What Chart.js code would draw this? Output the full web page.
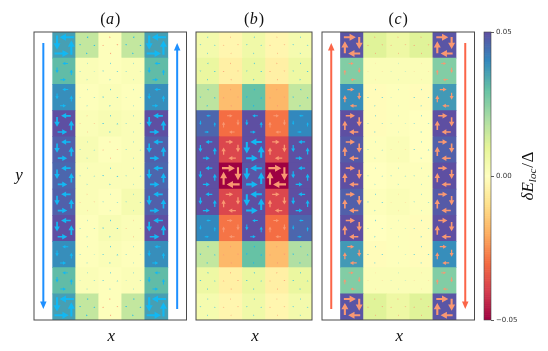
<!DOCTYPE html>
<html>
<head>
<meta charset="utf-8">
<script src="https://cdn.jsdelivr.net/npm/chart.js@4.4.1/dist/chart.umd.min.js"></script>
<style>
  html, body { margin: 0; padding: 0; background: #fff; }
  #wrap { position: relative; width: 548px; height: 351px; }
  #wrap canvas { position: absolute; left: 0; top: 0; }
</style>
</head>
<body>
<div id="wrap">
  <canvas id="panelA" width="548" height="351"></canvas>
  <canvas id="panelB" width="548" height="351"></canvas>
  <canvas id="panelC" width="548" height="351"></canvas>
  <canvas id="colorbar" width="548" height="351"></canvas>
</div>
<script>
// lattice: 5 columns x 11 rows (row 0 = top)
var columns = [0, 1, 2, 3, 4];
var rows = [0, 1, 2, 3, 4, 5, 6, 7, 8, 9, 10];

// local energy shift dE_loc / Delta, per row
var energyA = [
    [0.036, 0.016, 0.001, 0.016, 0.036],
    [0.031, 0.002, 0.001, 0.002, 0.031],
    [0.039, 0.001, 0.002, 0.001, 0.039],
    [0.050, 0.002, 0.003, 0.002, 0.050],
    [0.047, 0.003, 0.001, 0.002, 0.047],
    [0.046, 0.002, 0.002, 0.002, 0.046],
    [0.047, 0.002, 0.001, 0.004, 0.047],
    [0.050, 0.001, 0.003, 0.002, 0.050],
    [0.039, 0.001, 0.002, 0.001, 0.039],
    [0.031, 0.002, 0.001, 0.002, 0.031],
    [0.036, 0.016, 0.001, 0.016, 0.036]
];
var energyB = [
    [0.005, -0.003, 0.006, -0.003, 0.004],
    [0.008, -0.005, 0.008, -0.005, 0.007],
    [0.017, -0.017, 0.030, -0.018, 0.016],
    [0.046, -0.030, 0.050, -0.029, 0.040],
    [0.050, -0.038, 0.050, -0.038, 0.050],
    [0.050, -0.050, 0.049, -0.050, 0.050],
    [0.050, -0.038, 0.050, -0.038, 0.050],
    [0.040, -0.029, 0.050, -0.030, 0.046],
    [0.016, -0.018, 0.030, -0.017, 0.019],
    [0.007, -0.005, 0.008, -0.005, 0.008],
    [0.004, -0.003, 0.006, -0.003, 0.005]
];
var energyC = [
    [0.049, 0.011, 0.007, 0.011, 0.049],
    [0.026, 0.002, 0.002, 0.002, 0.026],
    [0.039, -0.001, 0.001, -0.001, 0.037],
    [0.050, -0.001, 0.001, 0.000, 0.050],
    [0.048, 0.001, 0.002, 0.000, 0.047],
    [0.050, 0.000, 0.001, 0.001, 0.050],
    [0.047, 0.001, 0.002, 0.001, 0.048],
    [0.050, 0.000, 0.001, -0.001, 0.050],
    [0.037, -0.001, 0.001, -0.001, 0.039],
    [0.026, 0.002, 0.002, 0.002, 0.026],
    [0.049, 0.011, 0.007, 0.011, 0.049]
];

// plaquette currents (fraction of a cell): + counter-clockwise, - clockwise
var currentA = [
    [0.62, 0.06, -0.05, 0.06, 0.62],
    [0.24, 0.02, 0.03, 0.02, 0.24],
    [0.26, 0.02, 0.04, 0.02, 0.26],
    [0.42, -0.02, 0.04, 0.02, 0.42],
    [0.41, 0.02, -0.03, 0.02, 0.41],
    [0.41, 0.02, 0.04, 0.02, 0.41],
    [0.41, -0.02, 0.02, 0.02, 0.41],
    [0.42, 0.02, 0.04, -0.02, 0.42],
    [0.26, 0.02, 0.04, 0.02, 0.26],
    [0.24, 0.02, 0.03, 0.02, 0.24],
    [0.62, 0.06, -0.05, 0.06, 0.62]
];
var currentB = [
    [0.03, -0.03, 0.03, -0.03, 0.03],
    [0.04, -0.04, 0.04, -0.04, 0.04],
    [0.05, -0.05, 0.06, -0.05, 0.05],
    [0.18, -0.24, 0.24, -0.24, 0.18],
    [0.30, -0.32, 0.50, -0.32, 0.30],
    [0.30, -0.56, 0.50, -0.56, 0.30],
    [0.30, -0.32, 0.50, -0.32, 0.30],
    [0.18, -0.24, 0.24, -0.24, 0.18],
    [0.05, -0.05, 0.06, -0.05, 0.05],
    [0.04, -0.04, 0.04, -0.04, 0.04],
    [0.03, -0.03, 0.03, -0.03, 0.03]
];
var currentC = [
    [-0.52, -0.04, -0.03, -0.04, -0.52],
    [-0.22, -0.01, 0.01, -0.01, -0.22],
    [-0.30, 0.03, 0.01, 0.03, -0.30],
    [-0.40, 0.03, 0.01, 0.03, -0.40],
    [-0.40, 0.02, -0.01, 0.03, -0.40],
    [-0.40, 0.02, 0.02, 0.02, -0.40],
    [-0.40, 0.03, -0.01, 0.02, -0.40],
    [-0.40, 0.03, 0.01, 0.03, -0.40],
    [-0.30, 0.03, 0.01, 0.03, -0.30],
    [-0.22, -0.01, 0.01, -0.01, -0.22],
    [-0.52, -0.04, -0.03, -0.04, -0.52]
];

// edge flow direction: [left margin, right margin]
var edgeFlowA = ['down', 'up'];
var edgeFlowB = [];
var edgeFlowC = ['up', 'down'];

var panelTitles = ['a', 'b', 'c'];
var cbarRange = [-0.05, 0.05];
var cbarTicks = [-0.05, 0.00, 0.05];

// matplotlib "Spectral"
var spectral = [
    [158, 1, 66], [213, 62, 79], [244, 109, 67], [253, 174, 97], [254, 224, 139],
    [255, 255, 191], [230, 245, 152], [171, 221, 164], [102, 194, 165], [50, 136, 189], [94, 79, 162]
];
function cmap(v) {
    var t = (v - cbarRange[0]) / (cbarRange[1] - cbarRange[0]);
    t = Math.max(0, Math.min(1, t)) * (spectral.length - 1);
    var i = Math.min(Math.floor(t), spectral.length - 2), f = t - i;
    var a = spectral[i], b = spectral[i + 1];
    return 'rgb(' + [0, 1, 2].map(function (k) { return Math.round(a[k] + (b[k] - a[k]) * f); }).join(',') + ')';
}

var SERIF = '"Liberation Serif", "DejaVu Serif", serif';
var CYAN = '#12b8f3', SALMON = '#f99872';

function drawArrow(ctx, x0, y0, x1, y1, color, w, hw, hl) {
    var dx = x1 - x0, dy = y1 - y0, L = Math.sqrt(dx * dx + dy * dy);
    if (L < 0.05) return;
    var ux = dx / L, uy = dy / L, px = -uy, py = ux;
    hl = Math.min(hl, L);
    var bx = x1 - ux * hl, by = y1 - uy * hl;
    ctx.fillStyle = color;
    ctx.beginPath();
    ctx.moveTo(x0 + px * w / 2, y0 + py * w / 2);
    ctx.lineTo(bx + px * w / 2, by + py * w / 2);
    ctx.lineTo(bx + px * hw / 2, by + py * hw / 2);
    ctx.lineTo(x1, y1);
    ctx.lineTo(bx - px * hw / 2, by - py * hw / 2);
    ctx.lineTo(bx - px * w / 2, by - py * w / 2);
    ctx.lineTo(x0 - px * w / 2, y0 - py * w / 2);
    ctx.closePath();
    ctx.fill();
}

function drawCellArrows(chart, current) {
    var xs = chart.scales.x, ys = chart.scales.y, ctx = chart.ctx;
    var w = Math.abs(xs.getPixelForValue(1) - xs.getPixelForValue(0));
    var h = Math.abs(ys.getPixelForValue(1) - ys.getPixelForValue(0));
    // clockwise (on screen) directions for top, right, bottom, left arrows
    var sides = [
        { ox: 0, oy: -0.3 * h, dx: 1, dy: 0 },
        { ox: 0.31 * w, oy: 0, dx: 0, dy: 1 },
        { ox: 0, oy: 0.32 * h, dx: -1, dy: 0 },
        { ox: -0.31 * w, oy: 0, dx: 0, dy: -1 }
    ];
    rows.forEach(function (r) {
        columns.forEach(function (c) {
            var m = current[r][c];
            if (!m) return;
            var cx = xs.getPixelForValue(c), cy = ys.getPixelForValue(r + 0.5);
            var len = Math.abs(m) * w, s = m > 0 ? -1 : 1;
            var color = m > 0 ? CYAN : SALMON;
            var k = Math.min(1, len / 12);
            var sw = Math.max(0.9, 2.1 * k), hw = Math.max(1.8, 7 * k), hl = Math.max(1.4, 6.3 * k);
            sides.forEach(function (sd) {
                var dx = s * sd.dx, dy = s * sd.dy;
                var mx = cx + sd.ox - dx * 0.18 * len, my = cy + sd.oy - dy * 0.18 * len;
                drawArrow(ctx, mx - dx * len / 2, my - dy * len / 2, mx + dx * len / 2, my + dy * len / 2,
                    color, sw, hw, hl);
            });
        });
    });
}

function drawEdgeFlow(chart, flow, color) {
    if (!flow.length) return;
    var xs = chart.scales.x, ys = chart.scales.y;
    var xl = xs.getPixelForValue((xs.min + columns[0] - 0.5) / 2);
    var xr = xs.getPixelForValue((xs.max + columns[columns.length - 1] + 0.5) / 2);
    var yTop = ys.getPixelForValue(0.42), yBot = ys.getPixelForValue(rows.length - 0.42);
    [xl, xr].forEach(function (x, i) {
        var down = flow[i] === 'down';
        drawArrow(chart.ctx, x, down ? yTop : yBot, x, down ? yBot : yTop, color, 2, 6.5, 7.5);
    });
}

function drawMixed(ctx, parts, x, y, align) {
    var total = 0;
    parts.forEach(function (p) { ctx.font = p.font; total += ctx.measureText(p.text).width + (p.gap || 0); });
    var cx = align === 'center' ? x - total / 2 : x;
    parts.forEach(function (p) {
        ctx.font = p.font;
        ctx.fillText(p.text, cx, y + (p.dy || 0));
        cx += ctx.measureText(p.text).width + (p.gap || 0);
    });
}

function makePanel(id, energy, current, flow, flowColor, title, area, xRange, showY) {
    var cells = [], colors = [];
    rows.forEach(function (r) {
        columns.forEach(function (c) {
            cells.push({ x: c, y: [r, r + 1] });
            colors.push(cmap(energy[r][c]));
        });
    });
    var decor = {
        id: 'decor',
        afterDatasetsDraw: function (chart) {
            drawCellArrows(chart, current);
            drawEdgeFlow(chart, flow, flowColor);
        },
        afterDraw: function (chart) {
            var a = chart.chartArea, ctx = chart.ctx;
            ctx.save();
            ctx.strokeStyle = '#4a4a4a';
            ctx.lineWidth = 1;
            ctx.strokeRect(a.left, a.top, a.right - a.left, a.bottom - a.top);
            ctx.fillStyle = '#111';
            ctx.textBaseline = 'alphabetic';
            var mid = (a.left + a.right) / 2;
            drawMixed(ctx, [
                { text: '(', font: '16px ' + SERIF, gap: 0.5 },
                { text: title, font: 'italic 16px ' + SERIF, gap: 1 },
                { text: ')', font: '16px ' + SERIF }
            ], mid, a.top - 8, 'center');
            ctx.textAlign = 'center';
            ctx.textBaseline = 'middle';
            ctx.font = 'italic 17px ' + SERIF;
            ctx.fillText('x', mid + 1, a.bottom + 17);
            if (showY) ctx.fillText('y', a.left - 15, (a.top + a.bottom) / 2);
            ctx.restore();
        }
    };
    return new Chart(document.getElementById(id), {
        type: 'bar',
        data: {
            datasets: [{
                data: cells,
                backgroundColor: colors,
                borderWidth: 0,
                barPercentage: 1,
                categoryPercentage: 1
            }]
        },
        options: {
            responsive: false,
            animation: false,
            events: [],
            layout: { padding: { left: area[0], top: area[1], right: 548 - area[2], bottom: 351 - area[3] } },
            plugins: { legend: { display: false }, tooltip: { enabled: false } },
            scales: {
                x: {
                    type: 'linear', min: xRange[0], max: xRange[1], display: false, offset: false,
                    afterBuildTicks: function (s) { s.ticks = columns.map(function (c) { return { value: c }; }); }
                },
                y: { type: 'linear', min: 0, max: rows.length, reverse: true, display: false }
            }
        },
        plugins: [decor]
    });
}

makePanel('panelA', energyA, currentA, edgeFlowA, '#1e90ff', panelTitles[0], [34, 32, 186.5, 320], [-1.31, 5.31], true);
makePanel('panelB', energyB, currentB, edgeFlowB, '#1e90ff', panelTitles[1], [196, 32, 312, 320], [-0.5, 4.5], false);
makePanel('panelC', energyC, currentC, edgeFlowC, '#fb6548', panelTitles[2], [322, 32, 474.5, 320], [-1.3, 5.3], false);

// colorbar
var cbarSteps = 160, cbarCells = [], cbarColors = [];
for (var i = 0; i < cbarSteps; i++) {
    var lo = cbarRange[0] + (cbarRange[1] - cbarRange[0]) * i / cbarSteps;
    var hi = cbarRange[0] + (cbarRange[1] - cbarRange[0]) * (i + 1) / cbarSteps;
    cbarCells.push({ x: 'cb', y: [lo, hi] });
    cbarColors.push(cmap((lo + hi) / 2));
}
var cbarLabel = {
    id: 'cbarLabel',
    afterDraw: function (chart) {
        var a = chart.chartArea, ctx = chart.ctx;
        ctx.save();
        ctx.strokeStyle = '#444';
        ctx.lineWidth = 0.6;
        ctx.strokeRect(a.left, a.top, a.right - a.left, a.bottom - a.top);
        ctx.translate(529, (a.top + a.bottom) / 2);
        ctx.rotate(-Math.PI / 2);
        ctx.fillStyle = '#111';
        ctx.textBaseline = 'middle';
        ctx.textAlign = 'left';
        drawMixed(ctx, [
            { text: '\u03b4', font: 'italic 17px ' + SERIF },
            { text: 'E', font: 'italic 17px ' + SERIF },
            { text: 'loc', font: 'italic 11px ' + SERIF, dy: 4, gap: 1 },
            { text: '/', font: '17px ' + SERIF, gap: 0.5 },
            { text: '\u0394', font: '17px ' + SERIF }
        ], 0, 0, 'center');
        ctx.restore();
    }
};
new Chart(document.getElementById('colorbar'), {
    type: 'bar',
    data: {
        labels: ['cb'],
        datasets: [{
            data: cbarCells,
            backgroundColor: cbarColors,
            borderWidth: 0,
            barPercentage: 1,
            categoryPercentage: 1
        }]
    },
    options: {
        responsive: false,
        animation: false,
        events: [],
        layout: { padding: { left: 484, top: 32, right: 17, bottom: 31 } },
        plugins: { legend: { display: false }, tooltip: { enabled: false } },
        scales: {
            x: { display: false },
            y: {
                position: 'right',
                min: cbarRange[0],
                max: cbarRange[1],
                afterBuildTicks: function (s) { s.ticks = cbarTicks.map(function (v) { return { value: v }; }); },
                afterFit: function (s) { s.width = 40; },
                grid: { drawOnChartArea: false, tickLength: 3, color: '#333', lineWidth: 0.8 },
                border: { display: false },
                ticks: {
                    padding: 2,
                    color: '#333',
                    font: { family: '"DejaVu Sans", sans-serif', size: 7 },
                    callback: function (v) { return (v < 0 ? '\u2212' : '') + Math.abs(v).toFixed(2); }
                }
            }
        }
    },
    plugins: [cbarLabel]
});
</script>
</body>
</html>
